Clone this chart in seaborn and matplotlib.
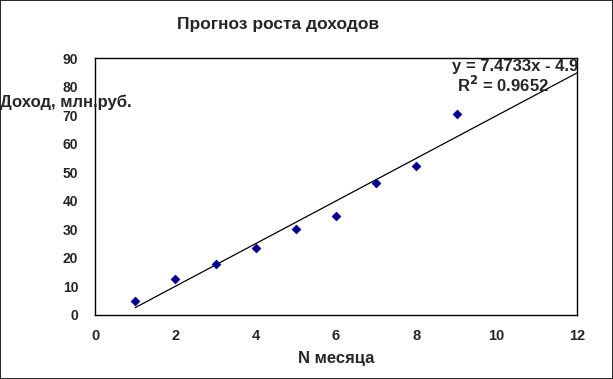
import numpy as np
import pandas as pd
import matplotlib
matplotlib.use("Agg")
import matplotlib.pyplot as plt
import seaborn as sns
from matplotlib.patches import Rectangle

# ---- data ----
months = [1, 2, 3, 4, 5, 6, 7, 8, 9]
income = [5.0, 12.5, 18.0, 23.5, 30.2, 34.7, 46.4, 52.2, 70.5]
trend_slope = 7.4733
trend_intercept = -4.9
trend_range = [1, 12]
x_ticks = [0, 2, 4, 6, 8, 10, 12]
y_ticks = [0, 10, 20, 30, 40, 50, 60, 70, 80, 90]
title = "Прогноз роста доходов"
x_label = "N месяца"
y_label = "Доход, млн.руб."
eq_text = "y = 7.4733x - 4.9"
r2_text = "R$^2$ = 0.9652"

sns.set_style("white")
plt.rcParams["font.family"] = ["Liberation Sans", "DejaVu Sans"]
plt.rcParams["font.weight"] = "bold"

fig = plt.figure(figsize=(6.13, 3.79), dpi=100)
ax = fig.add_axes([95 / 613, 1 - 315 / 379, (577 - 95) / 613, (315 - 58) / 379])

df = pd.DataFrame({"x": months, "y": income})
sns.scatterplot(data=df, x="x", y="y", marker="D", s=20, color="#000080",
                edgecolor="#000080", linewidth=0.5, ax=ax, zorder=3)

tx = np.array(trend_range, dtype=float)
tdf = pd.DataFrame({"x": tx, "y": trend_slope * tx + trend_intercept})
sns.lineplot(data=tdf, x="x", y="y", color="black", linewidth=0.9, ax=ax, zorder=2)

ax.set_xlim(0, 12)
ax.set_ylim(0, 90)
ax.set_xticks(x_ticks)
ax.set_yticks(y_ticks)
ax.set_xticklabels([str(t) for t in x_ticks], fontsize=10.5, fontweight="bold")
ax.set_yticklabels([str(t) for t in y_ticks], fontsize=10, fontweight="bold")
ax.tick_params(axis="both", direction="inout", length=8, width=1, color="black", pad=6)
ax.tick_params(axis="y", pad=8)
for sp in ax.spines.values():
    sp.set_color("black")
    sp.set_linewidth(1)
ax.set_xlabel(x_label, fontsize=12, fontweight="bold", labelpad=6)
ax.set_ylabel("")

fig.text(278 / 613, 1 - 25 / 379, title, ha="center", va="center", fontsize=12.5, fontweight="bold")
fig.text(0.0, 1 - 102 / 379, y_label, ha="left", va="center", fontsize=12, fontweight="bold")
fig.text(515 / 613, 1 - 67 / 379, eq_text, ha="center", va="center", fontsize=12, fontweight="bold")
fig.text(503 / 613, 1 - 85 / 379, r2_text, ha="center", va="center", fontsize=12, fontweight="bold")

fig.patches.append(Rectangle((0.0008, 0.0013), 0.9984, 0.9974, transform=fig.transFigure,
                             fill=False, edgecolor="black", linewidth=1.2))

fig.savefig("out.png", dpi=100)
